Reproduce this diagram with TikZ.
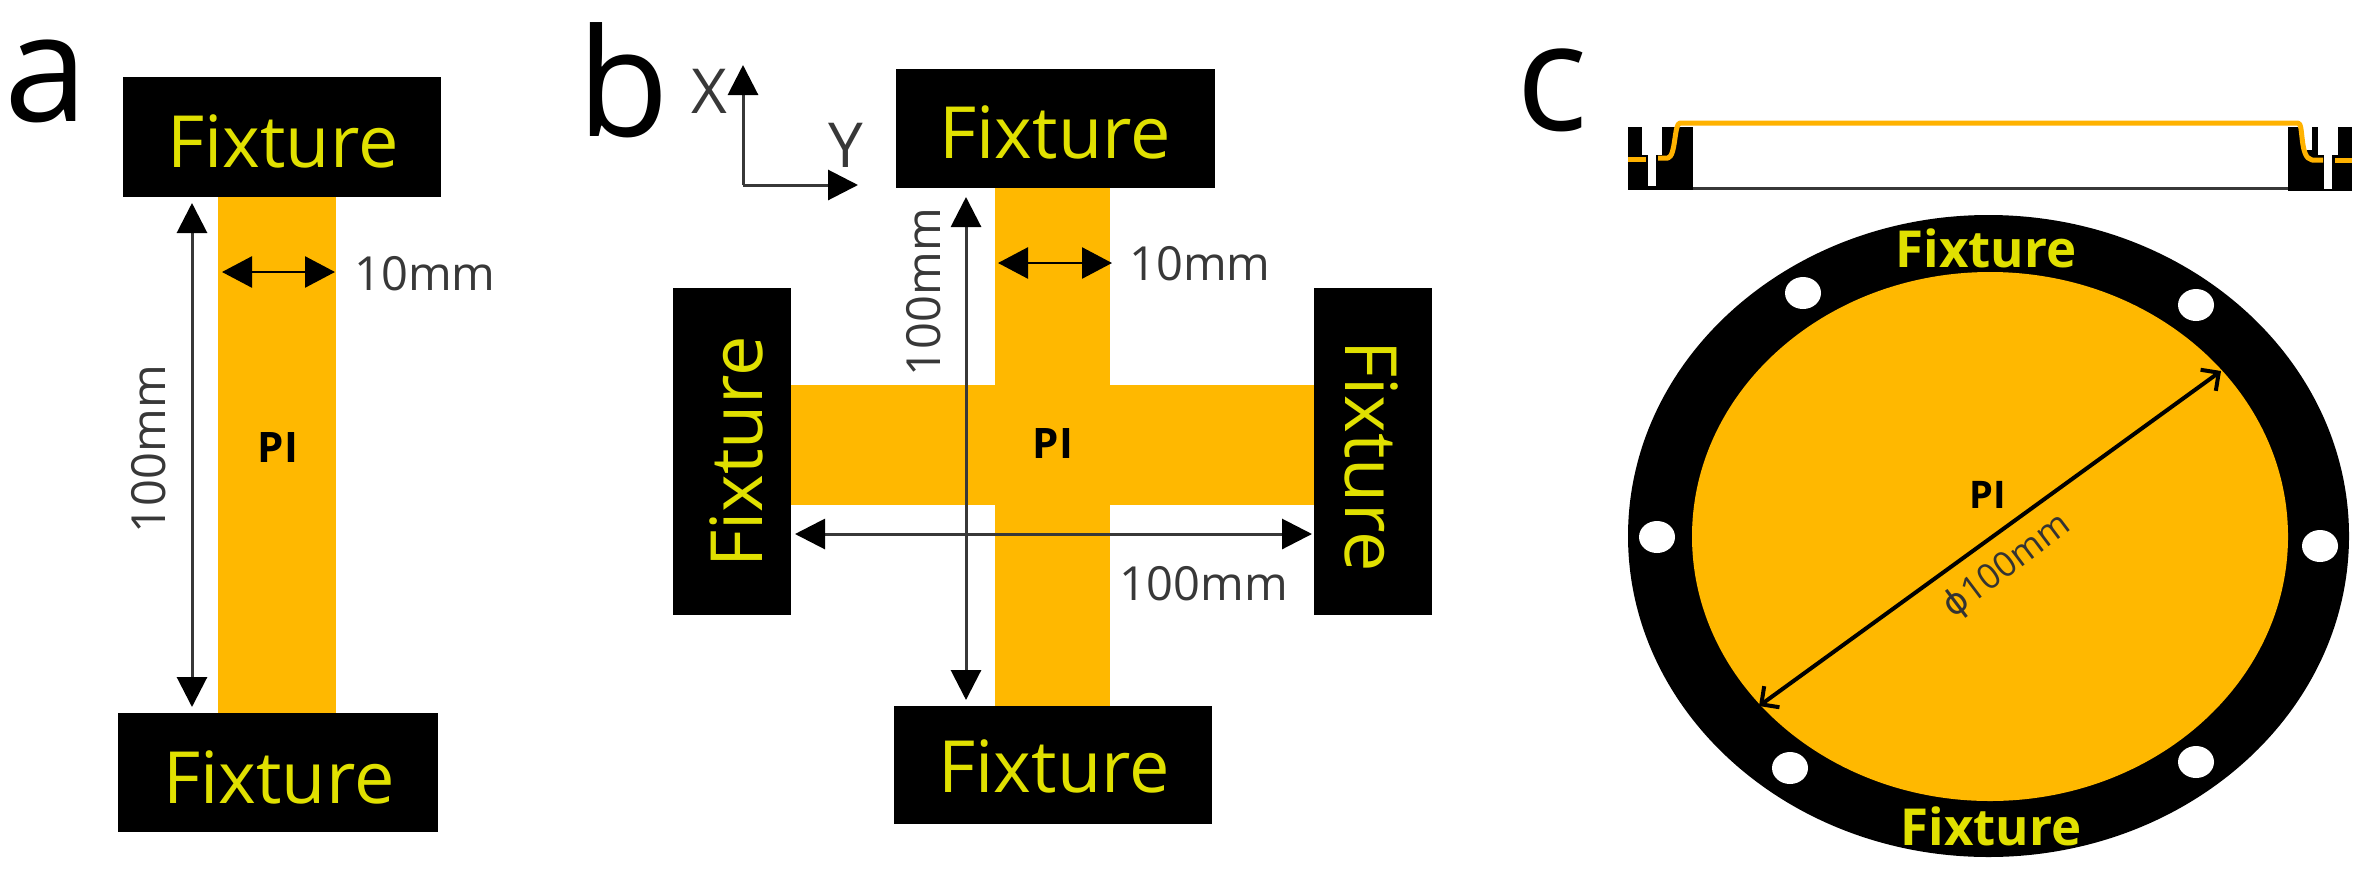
\documentclass[tikz,border=0pt]{standalone}
\usepackage{fontspec}
\setmainfont{Open Sans}
\newfontfamily\phifont{DejaVu Sans}
\usetikzlibrary{arrows.meta,shapes.geometric}
\definecolor{pi}{HTML}{FFB800}
\definecolor{fixt}{HTML}{E0E000}
\definecolor{dimgray}{HTML}{383838}
\tikzset{
  x=1pt,y=-1pt,
  fixbox/.style={fill=black,draw=none},
  fixlabel/.style={text=fixt,font=\fontsize{72}{72}\selectfont,inner sep=0pt,anchor=base},
  fixsmall/.style={text=fixt,font=\fontsize{51}{51}\selectfont\bfseries,inner sep=0pt,anchor=base},
  dimlabel/.style={text=dimgray,font=\fontsize{47}{47}\selectfont,inner sep=0pt,anchor=base},
  pilabel/.style={text=black,font=\fontsize{42}{42}\selectfont\bfseries,inner sep=0pt,anchor=base},
  panel/.style={text=black,font=\fontsize{150}{150}\selectfont,inner sep=0pt,anchor=base},
  dimarrow/.style={{Triangle[length=30pt,width=30pt,color=black]}-{Triangle[length=30pt,width=30pt,color=black]},line width=3pt,draw=dimgray},
  shortarrow/.style={{Triangle[length=30pt,width=31pt]}-{Triangle[length=30pt,width=31pt]},line width=2.6pt,draw=black},
  axisarrow/.style={-{Triangle[length=30pt,width=30pt,color=black]},line width=3pt,draw=dimgray},
  diaarrow/.style={{Straight Barb[length=13pt,width=26pt,line width=4pt]}-{Straight Barb[length=13pt,width=26pt,line width=4pt]},line width=4pt,draw=black},
  holeshape/.style={ellipse,fill=white,draw=none,minimum width=36pt,minimum height=32pt,inner sep=0pt},
  orangeline/.style={draw=pi!90!orange,line width=5pt}
}
\begin{document}
\begin{tikzpicture}
\useasboundingbox (0,0) rectangle (2376,879);
\fill[white] (0,0) rectangle (2376,879);
% panel a
\fill[pi] (218,196) rectangle (336,713);
\fill[fixbox] (123,77) rectangle (441,197);
\fill[fixbox] (118,713) rectangle (438,832);
\node[panel] (la) at (46,121) {a};
\node[fixlabel] (fa1) at (283,167) {Fixture};
\node[fixlabel] (fa2) at (279,803) {Fixture};
\node[pilabel] (pia) at (278,462) {PI};
\node[dimlabel] (wa) at (425,290) {10mm};
\node[dimlabel,rotate=90] (ha) at (165,449) {100mm};
\coordinate (a1) at (192,203);
\coordinate (a2) at (192,707);
\coordinate (a3) at (222,272);
\coordinate (a4) at (335,272);
\draw[dimarrow] (a1) -- (a2);
\draw[shortarrow] (a3) -- (a4);
% panel b
\fill[pi] (995,188) rectangle (1110,706);
\fill[pi] (791,385) rectangle (1314,505);
\fill[fixbox] (896,69) rectangle (1215,188);
\fill[fixbox] (894,706) rectangle (1212,824);
\fill[fixbox] (673,288) rectangle (791,615);
\fill[fixbox] (1314,288) rectangle (1432,615);
\node[panel] (lb) at (623,136) {b};
\node[fixlabel] (fb1) at (1055,158) {Fixture};
\node[fixlabel] (fb2) at (1054,792) {Fixture};
\node[fixlabel,rotate=90] (fb3) at (762,452) {Fixture};
\node[fixlabel,rotate=-90] (fb4) at (1345,456) {Fixture};
\node[pilabel] (pib) at (1053,458) {PI};
\node[dimlabel] (wb) at (1200,280) {10mm};
\node[dimlabel,rotate=90] (hb) at (940,292) {100mm};
\node[dimlabel] (lb2) at (1204,600) {100mm};
\node[dimlabel,font=\fontsize{62}{62}\selectfont] (axx) at (709,113) {X};
\node[dimlabel,font=\fontsize{62}{62}\selectfont] (axy) at (846,167) {Y};
\coordinate (o) at (743,185);
\coordinate (ox) at (743,65);
\coordinate (oy) at (858,185);
\draw[axisarrow] (o) -- (ox);
\draw[axisarrow] (o) -- (oy);
\coordinate (b1) at (966,197);
\coordinate (b2) at (966,700);
\coordinate (b3) at (998,263);
\coordinate (b4) at (1112,263);
\coordinate (b5) at (795,534);
\coordinate (b6) at (1312,534);
\draw[dimarrow] (b1) -- (b2);
\draw[shortarrow] (b3) -- (b4);
\draw[dimarrow] (b5) -- (b6);
% panel c top: side view
\node[panel] (lc) at (1552,130) {c};
\fill[fixbox] (1628,127) rectangle (1693,190);
\fill[fixbox] (2288,127) rectangle (2352,191);
\draw[draw=dimgray,line width=2.5pt] (1693,188.5) -- (2288,188.5);
\fill[white] (1642,127) rectangle (1662,155);
\fill[white] (1648,155) rectangle (1656,186);
\fill[white] (2318,127) rectangle (2338,155);
\fill[white] (2324,155) rectangle (2332,189);
\fill[white] (2303,127) rectangle (2312,150);
\coordinate (sl1) at (1628,159);
\coordinate (sl2) at (1646,159);
\coordinate (sl3) at (1658,158);
\coordinate (sr1) at (2352,160);
\coordinate (sr2) at (2335,160);
\coordinate (sr3) at (2323,160);
\draw[orangeline] (sl1) -- (sl2);
\draw[orangeline,line join=round] (sl3) -- (1668,158) .. controls (1676,156) and (1674,123) .. (1680,123) -- (2298,123) .. controls (2304,123) and (2299,158) .. (2312,160) -- (sr3);
\draw[orangeline] (sr2) -- (sr1);
% panel c disc
\fill[black] (1988.5,536) ellipse [x radius=360.5,y radius=321];
\fill[pi] (1990,536.5) ellipse [x radius=298,y radius=264.5];
\node[holeshape] (h1) at (1803,293) {};
\node[holeshape] (h2) at (2196,305) {};
\node[holeshape] (h3) at (1657,537) {};
\node[holeshape] (h4) at (2320,546) {};
\node[holeshape] (h5) at (1790,768) {};
\node[holeshape] (h6) at (2196,762) {};
\node[fixsmall] (fc1) at (1986,267) {Fixture};
\node[fixsmall] (fc2) at (1991,845) {Fixture};
\node[pilabel,font=\fontsize{38}{38}\selectfont\bfseries] (pic) at (1988,508) {PI};
\coordinate (c1) at (2221,371);
\coordinate (c2) at (1759,706);
\draw[diaarrow] (c1) -- (c2);
\node[dimlabel,text=black!80,font=\fontsize{35}{35}\selectfont,rotate=37,anchor=center] (dc) at (2007,566) {{\phifont ϕ}100mm};
\end{tikzpicture}
\end{document}
